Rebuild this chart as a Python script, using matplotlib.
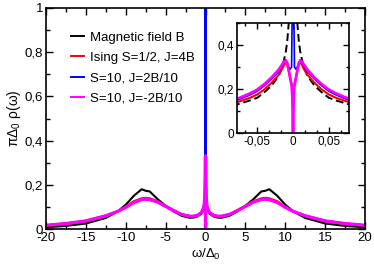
import numpy as np
import matplotlib
matplotlib.use('Agg')
import matplotlib.pyplot as plt
from matplotlib.ticker import MultipleLocator, FuncFormatter

plt.rcParams['font.family'] = ['Liberation Sans', 'DejaVu Sans']
plt.rcParams['mathtext.fontset'] = 'custom'
plt.rcParams['mathtext.rm'] = 'Liberation Sans'
plt.rcParams['mathtext.it'] = 'Liberation Sans'
plt.rcParams['axes.unicode_minus'] = False

# half of the curves (omega >= 0), the spectra are symmetric in omega
w_half = [0, 0.001, 0.002, 0.004, 0.006, 0.008, 0.01, 0.012, 0.015, 0.02, 0.03,
          0.04, 0.05, 0.06, 0.078, 0.1, 0.2, 0.5, 1, 1.5, 2, 3, 4, 5, 6, 7,
          7.5, 8, 9, 10, 11, 12.5, 15, 17.5, 20]
rho_field = [1.0, 0.9, 0.8, 0.62, 0.5, 0.42, 0.37, 0.34, 0.3, 0.26, 0.215,
             0.185, 0.16, 0.148, 0.13, 0.12, 0.095, 0.07, 0.057, 0.052, 0.051, 0.06, 0.08, 0.105, 0.135, 0.17,
             0.173, 0.18, 0.15, 0.11, 0.08, 0.05, 0.025, 0.014, 0.008]
rho_ising = [0.205, 0.21, 0.222, 0.25, 0.283, 0.31, 0.322, 0.312, 0.292, 0.265, 0.228,
             0.198, 0.175, 0.16, 0.14, 0.127, 0.1, 0.075, 0.062, 0.058, 0.058, 0.066, 0.085, 0.105, 0.125, 0.138,
             0.14, 0.138, 0.125, 0.1, 0.08, 0.06, 0.036, 0.024, 0.016]
rho_s10_pos = [1.0, 0.6, 0.3, 0.29, 0.3, 0.318, 0.332, 0.322, 0.305, 0.28, 0.245,
               0.215, 0.19, 0.173, 0.149, 0.132, 0.1, 0.075, 0.062, 0.058, 0.058, 0.066, 0.083, 0.102, 0.122, 0.133,
               0.135, 0.133, 0.12, 0.098, 0.08, 0.06, 0.037, 0.025, 0.017]
rho_s10_neg = [0.0, 0.17, 0.215, 0.25, 0.285, 0.318, 0.33, 0.326, 0.312, 0.288, 0.252,
               0.222, 0.197, 0.18, 0.155, 0.137, 0.1, 0.075, 0.062, 0.058, 0.058, 0.066, 0.083, 0.102, 0.122, 0.133,
               0.135, 0.133, 0.12, 0.098, 0.08, 0.06, 0.037, 0.025, 0.017]


def full(w, r):
    w = np.asarray(w)
    r = np.asarray(r)
    return np.r_[-w[:0:-1], w], np.r_[r[:0:-1], r]


curves = [
    (rho_field, 'black', 1.5, 'Magnetic field B'),
    (rho_ising, 'red', 1.8, 'Ising S=1/2, J=4B'),
    (rho_s10_pos, 'blue', 1.5, 'S=10, J=2B/10'),
    (rho_s10_neg, 'magenta', 2.3, 'S=10, J=-2B/10'),
]

comma = FuncFormatter(lambda v, p: ('%g' % round(v, 4)).replace('.', ','))

fig = plt.figure(figsize=(3.74, 2.66), dpi=100)
ax = fig.add_axes([0.123, 0.139, 0.853, 0.831])
for r, c, lw, lab in curves:
    x, y = full(w_half, r)
    ax.plot(x, y, color=c, lw=lw, label=lab)

ax.set_xlim(-20, 20)
ax.set_ylim(0, 1)
ax.xaxis.set_major_locator(MultipleLocator(5))
ax.xaxis.set_minor_locator(MultipleLocator(2.5))
ax.yaxis.set_major_locator(MultipleLocator(0.2))
ax.yaxis.set_minor_locator(MultipleLocator(0.1))
ax.yaxis.set_major_formatter(comma)
ax.tick_params(which='both', direction='in', top=True, right=True, width=1)
ax.tick_params(which='major', length=5, labelsize=9.5, pad=2)
ax.tick_params(which='minor', length=3)
for s in ax.spines.values():
    s.set_linewidth(1.2)
ax.set_xlabel('ω/Δ$_0$', fontsize=9.5, labelpad=2)
ax.set_ylabel('πΔ$_0$ ρ(ω)', fontsize=10, labelpad=1)

leg = ax.legend(frameon=False, fontsize=9.5, handlelength=1.0, handletextpad=0.5,
                labelspacing=0.6, borderpad=0, loc='upper left',
                bbox_to_anchor=(64 / 374, 1 - 25 / 266), bbox_transform=fig.transFigure)
for h in leg.get_lines():
    h.set_linewidth(1.4)

# inset: zoom on the central peak
axi = fig.add_axes([0.634, 0.5, 0.299, 0.4135])
for r, c, lw, lab in curves:
    x, y = full(w_half, r)
    if c == 'black':
        axi.plot(x, y, color=c, lw=1.4, ls='--', dashes=(4, 2))
    else:
        axi.plot(x, y, color=c, lw=lw - 0.3)
axi.set_xlim(-0.078, 0.078)
axi.set_ylim(0, 0.5)
axi.xaxis.set_major_locator(MultipleLocator(0.05))
axi.xaxis.set_minor_locator(MultipleLocator(0.05 / 3))
axi.yaxis.set_major_locator(MultipleLocator(0.2))
axi.yaxis.set_minor_locator(MultipleLocator(0.1))
axi.xaxis.set_major_formatter(comma)
axi.yaxis.set_major_formatter(comma)
axi.tick_params(which='both', direction='in', top=True, right=True, width=1)
axi.tick_params(which='major', length=4, labelsize=8.5, pad=2)
axi.tick_params(which='minor', length=2.5)
for s in axi.spines.values():
    s.set_linewidth(1.2)

plt.savefig('out.png', dpi=100)
